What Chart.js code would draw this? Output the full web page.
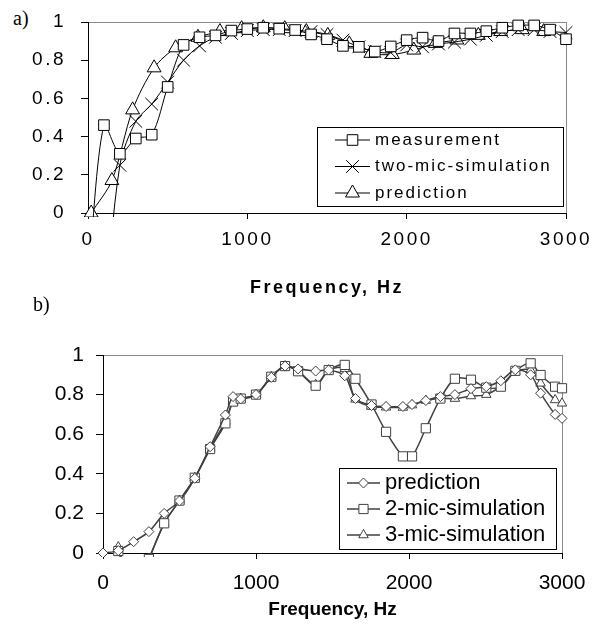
<!DOCTYPE html>
<html>
<head>
<meta charset="utf-8">
<script src="https://cdn.jsdelivr.net/npm/chart.js@4.4.0/dist/chart.umd.min.js"></script>
<style>
body { margin: 0; background: #fff; }
#page { position: relative; width: 595px; height: 629px; }
canvas { position: absolute; left: 0; }
.tag { position: absolute; font-family: 'Liberation Serif', 'Times New Roman', serif; font-size: 20px; line-height: 20px; color: #000; }
</style>
</head>
<body>
<div id="page">
  <div class="tag" style="left:13px;top:8px">a)</div>
  <canvas id="chartA" width="595" height="300" style="top:0"></canvas>
  <div class="tag" style="left:33px;top:294px">b)</div>
  <canvas id="chartB" width="595" height="329" style="top:300px"></canvas>
</div>
<script>
// a) absorption, every 100 Hz
const freqA = [0, 100, 200, 300, 400, 500, 600, 700, 800, 900, 1000, 1100, 1200, 1300, 1400, 1500,
  1600, 1700, 1800, 1900, 2000, 2100, 2200, 2300, 2400, 2500, 2600, 2700, 2800, 2900, 3000];
const measurement = [-0.36, 0.46, 0.31, 0.39, 0.41, 0.66, 0.88, 0.92, 0.93, 0.955, 0.963, 0.97, 0.965, 0.958, 0.935, 0.91,
  0.875, 0.87, 0.845, 0.872, 0.905, 0.918, 0.9, 0.94, 0.94, 0.952, 0.97, 0.982, 0.982, 0.96, 0.91];
const twoMicSim = [null, -0.56, 0.25, 0.48, 0.57, 0.685, 0.8, 0.875, 0.92, 0.94, 0.955, 0.96, 0.96, 0.955, 0.95, 0.935,
  0.905, 0.87, 0.845, 0.84, 0.88, 0.87, 0.885, 0.895, 0.91, 0.93, 0.95, 0.96, 0.96, 0.95, 0.945];
// prediction uses its own frequency grid
const predFreqA = [20, 150, 280, 415, 550, 690, 828, 964, 1100, 1235, 1370, 1505, 1640, 1775, 1910, 2045,
  2180, 2315, 2450, 2590, 2725, 2860];
const predictionA = [0, 0.17, 0.54, 0.76, 0.865, 0.92, 0.95, 0.965, 0.97, 0.965, 0.95, 0.93, 0.885, 0.836, 0.83, 0.853,
  0.888, 0.906, 0.93, 0.95, 0.96, 0.95];

// b)
const freqB = [0, 100, 200, 300, 400, 500, 600, 700, 800, 850, 900, 1000, 1100, 1190, 1275, 1390, 1475, 1580, 1650, 1755,
  1850, 1960, 2020, 2110, 2205, 2300, 2405, 2505, 2600, 2695, 2795, 2860, 2955, 3000];
const predictionB = [0, 0.012, 0.057, 0.108, 0.2, 0.263, 0.377, 0.537, 0.697, 0.79, 0.778, 0.8, 0.887, 0.944, 0.93, 0.919, 0.924, 0.895, 0.78, 0.745,
  0.74, 0.74, 0.75, 0.77, 0.79, 0.8, 0.83, 0.84, 0.87, 0.925, 0.9, 0.807, 0.7, 0.68];
const twoMicB = [null, 0.01, -0.2, -0.03, 0.15, 0.265, 0.38, 0.525, 0.655, 0.765, 0.78, 0.8, 0.89, 0.944, 0.918, 0.845, 0.924, 0.95, 0.88, 0.75,
  0.612, 0.488, 0.488, 0.63, 0.78, 0.88, 0.875, 0.835, 0.84, 0.92, 0.958, 0.899, 0.84, 0.832];
const threeMicB = [null, 0.03, -0.2, -0.03, 0.15, 0.265, 0.38, 0.53, 0.665, 0.765, 0.78, 0.8, 0.89, 0.944, 0.918, 0.85, 0.924, 0.93, 0.776, 0.74,
  0.736, 0.735, 0.747, 0.77, 0.78, 0.78, 0.793, 0.8, 0.843, 0.916, 0.924, 0.857, 0.773, 0.756];

const xTicks = [0, 1000, 2000, 3000];
const yTicks = [0, 0.2, 0.4, 0.6, 0.8, 1];

const pts = (xs, ys) => xs.map((x, i) => ({x: x, y: ys[i]}));

// letter spacing for the top chart's text
const spacing = {
  id: 'spacing',
  beforeDraw(chart, args, opts) {
    chart.ctx.letterSpacing = opts.value || '0px';
  }
};

// framed legend inside the plot, line + marker samples
const boxLegend = {
  id: 'boxLegend',
  afterDraw(chart, args, o) {
    const ctx = chart.ctx;
    ctx.save();
    ctx.letterSpacing = o.letterSpacing || '0px';
    ctx.fillStyle = '#fff';
    ctx.fillRect(o.x, o.y, o.w, o.h);
    ctx.strokeStyle = '#000';
    ctx.lineWidth = 1;
    ctx.strokeRect(o.x + 0.5, o.y + 0.5, o.w, o.h);
    ctx.font = o.font;
    ctx.textBaseline = 'middle';
    chart.data.datasets.forEach(function (ds, i) {
      const y = o.y + o.rowTop + i * o.rowGap;
      ctx.strokeStyle = ds.borderColor;
      ctx.lineWidth = ds.borderWidth;
      ctx.beginPath();
      ctx.moveTo(o.x + o.lineFrom, y);
      ctx.lineTo(o.x + o.lineTo, y);
      ctx.stroke();
      ctx.fillStyle = ds.pointBackgroundColor;
      ctx.strokeStyle = ds.pointBorderColor;
      ctx.lineWidth = ds.pointBorderWidth;
      Chart.helpers.drawPoint(ctx, {pointStyle: ds.pointStyle, radius: ds.pointRadius, borderWidth: ds.pointBorderWidth, rotation: 0},
        o.x + (o.lineFrom + o.lineTo) / 2, y);
      ctx.fillStyle = '#000';
      ctx.fillText(ds.label, o.x + o.textAt, y);
    });
    ctx.restore();
  }
};

function series(label, data, style, radius, color, width) {
  return {
    label: label,
    data: data,
    borderColor: color,
    borderWidth: width,
    pointStyle: style,
    pointRadius: radius,
    pointHoverRadius: radius,
    pointBackgroundColor: '#fff',
    pointBorderColor: color,
    pointBorderWidth: 1,
    fill: false,
    tension: 0.3,
    clip: {left: 14, top: 14, right: 14, bottom: 4}
  };
}

function axes(o) {
  return {
    x: {
      type: 'linear', min: 0, max: 3000,
      afterBuildTicks: s => { s.ticks = xTicks.map(v => ({value: v})); },
      afterFit: s => { s.height = o.xHeight; s.paddingLeft = 0; s.paddingRight = 0; },
      border: {color: '#000', width: 1},
      grid: {
        color: c => (c.tick && c.tick.value === 3000) ? '#8a8a8a' : 'rgba(0,0,0,0)',
        tickColor: '#000', tickLength: 6
      },
      ticks: {color: '#000', font: {family: 'Liberation Sans, Arial', size: o.tickSize}, padding: o.xPad,
        maxRotation: 0, autoSkip: false, callback: v => String(v)},
      title: {display: true, text: 'Frequency, Hz', color: '#000',
        font: {family: 'Liberation Sans, Arial', size: o.titleSize, weight: 'bold'}, padding: {top: 0, bottom: 0}}
    },
    y: {
      min: 0, max: 1,
      afterBuildTicks: s => { s.ticks = yTicks.map(v => ({value: v})); },
      afterFit: s => { s.width = o.yWidth; s.paddingTop = 0; s.paddingBottom = 0; },
      border: {color: '#000', width: 1},
      grid: {
        color: c => (c.tick && c.tick.value === 1) ? '#8a8a8a' : 'rgba(0,0,0,0)',
        tickColor: '#000', tickLength: 7
      },
      ticks: {color: '#000', font: {family: 'Liberation Sans, Arial', size: o.tickSize}, padding: o.yPad,
        callback: v => String(v)}
    }
  };
}

new Chart(document.getElementById('chartA'), {
  type: 'line',
  data: {
    datasets: [
      series('measurement', pts(freqA, measurement), 'rect', 7.5, '#000', 1),
      series('two-mic-simulation', pts(freqA, twoMicSim), 'crossRot', 9, '#000', 1),
      series('prediction', pts(predFreqA, predictionA), 'triangle', 8, '#000', 1)
    ]
  },
  options: {
    responsive: false,
    animation: false,
    layout: {padding: {left: 0, top: 22, right: 29, bottom: 1}},
    elements: {line: {capBezierPoints: false}},
    scales: axes({xHeight: 86, yWidth: 88, tickSize: 19, titleSize: 18, xPad: 9, yPad: 15}),
    plugins: {
      legend: {display: false},
      tooltip: {enabled: false},
      spacing: {value: '2.5px'},
      boxLegend: {x: 317, y: 127, w: 246, h: 79, rowTop: 13, rowGap: 26.5, lineFrom: 18, lineTo: 53, textAt: 58,
        font: '17px "Liberation Sans", Arial', letterSpacing: '2px'}
    }
  },
  plugins: [spacing, boxLegend]
});

new Chart(document.getElementById('chartB'), {
  type: 'line',
  data: {
    datasets: [
      series('prediction', pts(freqB, predictionB), 'rectRot', 5, '#404040', 1.5),
      series('2-mic-simulation', pts(freqB, twoMicB), 'rect', 6.5, '#404040', 1.5),
      series('3-mic-simulation', pts(freqB, threeMicB), 'triangle', 5.5, '#404040', 1.5)
    ]
  },
  options: {
    responsive: false,
    animation: false,
    layout: {padding: {left: 0, top: 55, right: 33, bottom: 8}},
    elements: {line: {capBezierPoints: false}},
    scales: axes({xHeight: 68, yWidth: 103, tickSize: 21, titleSize: 19, xPad: 12, yPad: 12}),
    plugins: {
      legend: {display: false},
      tooltip: {enabled: false},
      boxLegend: {x: 339, y: 168, w: 217, h: 81, rowTop: 15, rowGap: 26, lineFrom: 8, lineTo: 41, textAt: 46,
        font: '22px "Liberation Sans", Arial'}
    }
  },
  plugins: [boxLegend]
});
</script>
</body>
</html>
